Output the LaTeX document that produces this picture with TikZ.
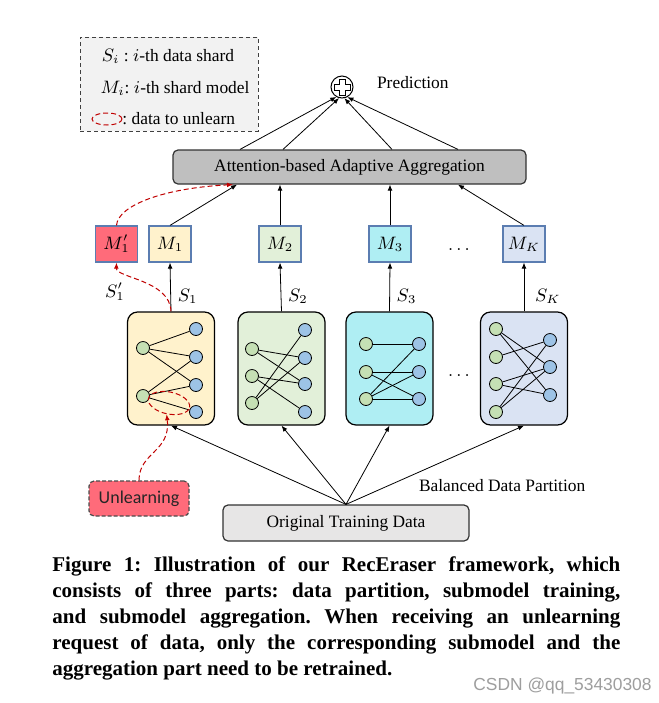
\documentclass[tikz,border=0pt]{standalone}
\usepackage{fontspec}
\setmainfont{Liberation Serif}
\newfontfamily\calfont{Carlito}
\newfontfamily\markfont{Liberation Sans}
\usetikzlibrary{arrows.meta,shapes.geometric,calc}
\frenchspacing

\definecolor{aggfill}{HTML}{BFBFBF}
\definecolor{datafill}{HTML}{E7E6E6}
\definecolor{legfill}{HTML}{F2F2F2}
\definecolor{yelfill}{HTML}{FFF2CC}
\definecolor{grnfill}{HTML}{E2F0D9}
\definecolor{cyanfill}{HTML}{AFEEF3}
\definecolor{bluefill}{HTML}{DAE3F3}
\definecolor{delfill}{HTML}{FF6B7A}
\definecolor{greennode}{HTML}{C5E0B4}
\definecolor{bluenode}{HTML}{9DC3E6}
\definecolor{modeledge}{HTML}{5B7DB1}
\definecolor{delred}{HTML}{C00000}

\tikzset{
  shardbox/.style={draw, rounded corners=5pt, line width=0.6pt, minimum width=43.5pt, minimum height=56.5pt, inner sep=0pt},
  modelbox/.style={draw=modeledge, line width=0.6pt, minimum width=21pt, minimum height=18pt, inner sep=0pt},
  greenv/.style={circle, draw, fill=greennode, line width=0.4pt, minimum size=6.5pt, inner sep=0pt},
  bluev/.style={circle, draw, fill=bluenode, line width=0.4pt, minimum size=6.5pt, inner sep=0pt},
  widebox/.style={draw=black!80, rounded corners=2.5pt, line width=0.6pt, inner sep=0pt},
  unlearnmark/.style={ellipse, draw=delred, dash pattern=on 2.5pt off 1.5pt, line width=0.5pt, inner sep=0pt},
  redflow/.style={draw=delred, dash pattern=on 2.5pt off 1.5pt, line width=0.5pt, ->},
}

\begin{document}
\begin{tikzpicture}[x=0.5pt, y=-0.5pt, >={Latex[length=3pt,width=2.4pt]}, font=\fontsize{8.7}{10}\selectfont, line width=0.4pt]
\path[use as bounding box, fill=white] (0,0) rectangle (659,703);

% Legend
\node[draw=black!75, dash pattern=on 2pt off 1.5pt, fill=legfill, minimum width=89pt, minimum height=47pt, inner sep=0pt] (legend) at (169,84) {};
\node (legs) at (168,56) {$S_i$ : $i$-th data shard};
\node (legm) at (175,88) {$M_i$: $i$-th shard model};
\node[unlearnmark, minimum width=15pt, minimum height=6pt] (legdel) at (107,119) {};
\node[anchor=west, inner sep=0pt] (legdeltext) at (122,119) {: data to unlearn};

% Prediction
\node[circle, draw, minimum size=11pt, inner sep=0pt, line width=0.5pt] (pred) at (342,87) {};
\draw[line width=0.5pt] (pred.center) ++(-3,-8) -- ++(6,0) -- ++(0,5) -- ++(5,0) -- ++(0,6) -- ++(-5,0) -- ++(0,5) -- ++(-6,0) -- ++(0,-5) -- ++(-5,0) -- ++(0,-6) -- ++(5,0) -- cycle;
\node[anchor=west] (predtext) at (370,83) {Prediction};

% Aggregation
\node[widebox, fill=aggfill, minimum width=176.5pt, minimum height=17pt] (agg) at (349.5,167) {Attention-based Adaptive Aggregation};
\draw[->] ($(agg.north)+(-109.5,0)$) -- (pred.-120);
\draw[->] ($(agg.north)+(-66.5,0)$) -- (pred.-105);
\draw[->] ($(agg.north)+(42.5,0)$) -- (pred.-78);
\draw[->] ($(agg.north)+(108.5,0)$) -- (pred.-62);

% Shard models
\node[modelbox, fill=delfill] (m1p) at (116.5,244) {$M_1'$};
\node[modelbox, fill=yelfill] (m1) at (170,244) {$M_1$};
\node[modelbox, fill=grnfill] (m2) at (280,244) {$M_2$};
\node[modelbox, fill=cyanfill] (m3) at (390,244) {$M_3$};
\node[modelbox, fill=bluefill] (mk) at (524,244) {$M_K$};
\node (dotsm) at (459,250) {$\dots$};

\draw[->] (m1.north) -- ($(agg.south)+(-112.5,0)$);
\draw[->] (m2.north) -- ($(agg.south)+(-69.5,0)$);
\draw[->] (m3.north) -- ($(agg.south)+(40.5,0)$);
\draw[->] (mk.north) -- ($(agg.south)+(108.5,0)$);
\draw[redflow] (m1p.north) .. controls (118,205) and (165,188) .. ($(agg.south)+(-116.5,0)$);

% Shard 1
\node[shardbox, fill=yelfill] (s1) at (171,368.5) {};
\foreach \n/\y in {1/348,2/396} \node[greenv] (s1g\n) at (143,\y) {};
\foreach \n/\y in {1/329,2/357,3/385,4/412} \node[bluev] (s1b\n) at (196,\y) {};
\foreach \a/\b in {1/1,1/2,1/3,2/2,2/3,2/4} \draw (s1g\a) -- (s1b\b);
\node[unlearnmark, rotate=-12, minimum width=21pt, minimum height=11pt] (del) at (169,403) {};

% Shard 2
\node[shardbox, fill=grnfill] (s2) at (281.5,368.5) {};
\foreach \n/\y in {1/349,2/376,3/403} \node[greenv] (s2g\n) at (252,\y) {};
\foreach \n/\y in {1/330,2/358,3/384,4/412} \node[bluev] (s2b\n) at (305,\y) {};
\foreach \a/\b in {1/2,1/3,2/3,2/4,3/1,3/2} \draw (s2g\a) -- (s2b\b);

% Shard 3
\node[shardbox, fill=cyanfill] (s3) at (389.5,368.5) {};
\foreach \n/\y in {1/344,2/372,3/399} \node[greenv] (s3g\n) at (366,\y) {};
\foreach \n/\y in {1/344,2/372,3/399} \node[bluev] (s3b\n) at (419,\y) {};
\foreach \a/\b in {1/1,2/2,2/3,3/1,3/2,3/3} \draw (s3g\a) -- (s3b\b);

% Shard K
\node[shardbox, fill=bluefill] (sk) at (524,368.5) {};
\foreach \n/\y in {1/329,2/357,3/384,4/412} \node[greenv] (skg\n) at (496,\y) {};
\foreach \n/\y in {1/340,2/367,3/395} \node[bluev] (skb\n) at (550,\y) {};
\foreach \a/\b in {1/2,1/3,2/1,3/2,3/3,4/1,4/2} \draw (skg\a) -- (skb\b);
\node (dotss) at (459,376) {$\dots$};

% Shards to models
\draw[->] (s1.north) -- (m1.south) node[pos=0.3, right] {$S_1$};
\draw[->] (s2.north) -- (m2.south) node[pos=0.3, right] {$S_2$};
\draw[->] (s3.north) -- (m3.south) node[pos=0.3, right] {$S_3$};
\draw[->] (sk.north) -- (mk.south) node[pos=0.3, right, xshift=2pt] {$S_K$};
\draw[redflow] (s1.north) .. controls (170,280) and (116,278) .. (m1p.south);
\node (s1plab) at (115,292) {$S_1'$};

% Partition
\node[widebox, fill=datafill, minimum width=123pt, minimum height=18pt] (data) at (346,523) {Original Training Data};
\foreach \s in {s1,s2,s3,sk} \draw[->] (data.north) -- (\s.south);
\node[anchor=west] (bdp) at (412,486) {Balanced Data Partition};

% Unlearning request
\node[widebox, draw=black!70, dash pattern=on 2pt off 1pt, fill=delfill, minimum width=50pt, minimum height=17.5pt, font=\calfont\fontsize{9}{10}\selectfont, text=black!85] (unlearn) at (139,498.5) {Unlearning};
\draw[redflow] (unlearn.north) .. controls (139,452) and (171,452) .. (del.south);

% Caption
\node[anchor=north west, text width=284pt, align=justify, inner sep=0pt, font=\fontsize{10.5}{13}\selectfont\bfseries] (caption) at (52,556) {Figure 1: Illustration of our RecEraser framework, which\linebreak consists of three parts: data partition, submodel training,\linebreak and submodel aggregation. When receiving an unlearning\linebreak request of data, only the corresponding submodel and the\linebreak aggregation part need to be retrained.};
\node[anchor=west, inner sep=0pt, text=black!38, font=\markfont\fontsize{8.7}{10}\selectfont] (wm) at (473,686) {CSDN @qq\_53430308};
\end{tikzpicture}
\end{document}
